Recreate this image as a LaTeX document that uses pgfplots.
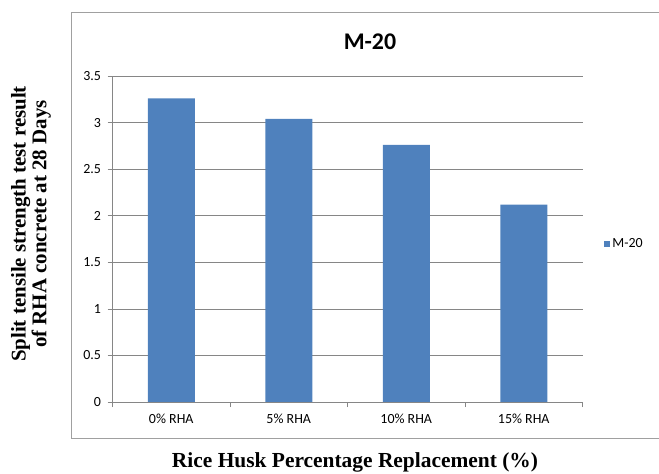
\documentclass[border=0pt]{standalone}
\usepackage{fontspec}
\setmainfont{Carlito}
\newfontfamily\lserif{Liberation Serif}
\usepackage{pgfplots}
\pgfplotsset{compat=1.18}
\definecolor{barblue}{HTML}{4F81BD}
\definecolor{gridgray}{HTML}{868686}
\definecolor{framegray}{HTML}{A0A0A0}
\begin{document}
\begin{tikzpicture}
\useasboundingbox (0,0) rectangle (659bp,474bp);
\draw[framegray, line width=1bp] (71bp,35bp) rectangle (664bp,461bp);
\begin{axis}[
  at={(112.5bp,72bp)}, anchor=south west,
  scale only axis, width=470bp, height=326bp,
  ymin=0, ymax=3.5, ytick={0,0.5,1,1.5,2,2.5,3,3.5},
  yticklabels={0,0.5,1,1.5,2,2.5,3,3.5},
  xmin=-0.5, xmax=3.5,
  xtick={-0.5,0.5,1.5,2.5,3.5}, xticklabels={},
  extra x ticks={0,1,2,3},
  extra x tick labels={0\% RHA,5\% RHA,10\% RHA,15\% RHA},
  extra x tick style={major tick length=0pt, xticklabel style={yshift=-8bp}},
  ymajorgrids, grid style={gridgray, line width=0.7bp},
  axis x line*=bottom, axis y line*=left,
  axis line style={gridgray, line width=0.8bp, -},
  tick align=outside, major tick length=5bp,
  tick style={gridgray, line width=0.7bp},
  ticklabel style={font=\fontsize{14}{14}\selectfont},
  yticklabel style={xshift=-3bp},
  /pgf/number format/assume math mode=true,
  legend style={at={(1.04,0.485)}, anchor=west, draw=none, fill=none,
    font=\fontsize{14}{14}\selectfont},
  legend image code/.code={\fill[barblue] (0bp,-3bp) rectangle (6bp,3bp);},
]
\addplot[ybar, bar width=47bp, fill=barblue, draw=none] coordinates {(0,3.26) (1,3.04) (2,2.76) (3,2.12)};
\addlegendentry{M-20}
\end{axis}
\node at (370bp,432bp) {\bfseries\fontsize{24}{24}\selectfont M-20};
\node at (355bp,12bp) {\lserif\bfseries\fontsize{21.5}{21.5}\selectfont Rice Husk Percentage Replacement (\%)};
\node[rotate=90, align=center, font=\lserif\bfseries\fontsize{21}{21}\selectfont] at (31bp,250bp) {Split tensile strength test result\\of RHA concrete at 28 Days};
\end{tikzpicture}
\end{document}
